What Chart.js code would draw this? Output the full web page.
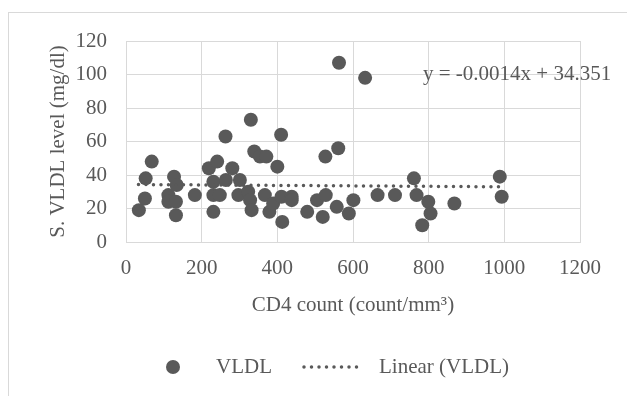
<!DOCTYPE html>
<html>
<head>
<meta charset="utf-8">
<script src="https://cdn.jsdelivr.net/npm/chart.js@4"></script>
<style>
  html, body { margin: 0; padding: 0; background: #fff; }
  #wrap { width: 627px; height: 396px; position: relative; }
</style>
</head>
<body>
<div id="wrap"><canvas id="c" width="627" height="396"></canvas></div>
<script>
// ---- data ----
const cd4Count = [34, 50, 52, 68, 112, 112, 127, 134, 132, 132, 182, 219, 241, 231, 231, 231, 248, 263, 264, 281,
  301, 297, 323, 328, 330, 332, 339, 354, 371, 367, 379, 389, 400, 410, 413, 411, 438, 438, 479, 505,
  520, 528, 527, 557, 561, 563, 589, 601, 632, 665, 711, 761, 768, 799, 805, 783, 868, 988, 993];
const vldlLevel = [19, 26, 38, 48, 28, 24, 39, 34, 24, 16, 28, 44, 48, 36, 28, 18, 28, 63, 37, 44,
  37, 28, 30, 25, 73, 19, 54, 51, 51, 28, 18, 23, 45, 64, 12, 27, 27, 25, 18, 25,
  15, 28, 51, 21, 56, 107, 17, 25, 98, 28, 28, 38, 28, 24, 17, 10, 23, 39, 27];
const trendX = [33, 993];
const trendY = [34.30, 32.96];
const equationText = 'y = -0.0014x + 34.351';
const xTitle = 'CD4 count (count/mm\u00B3)';
const yTitle = 'S. VLDL level (mg/dl)';
const seriesName = 'VLDL';
const trendName = 'Linear (VLDL)';

const FONT = "'Liberation Serif', 'Times New Roman', serif";
const FS = 21;
const TXT = '#595959';
const GRID = '#d9d9d9';
const DOT = '#595959';

const points = cd4Count.map((x, i) => ({ x: x, y: vldlLevel[i] }));
const trend = trendX.map((x, i) => ({ x: x, y: trendY[i] }));

const decor = {
  id: 'decor',
  beforeDraw(chart) {
    const ctx = chart.ctx;
    ctx.save();
    ctx.strokeStyle = GRID;
    ctx.lineWidth = 1;
    ctx.strokeRect(8.5, 12.5, 700, 500);
    ctx.restore();
  },
  afterDraw(chart) {
    const ctx = chart.ctx;
    const xs = chart.scales.x, ys = chart.scales.y;
    ctx.save();
    ctx.font = FS + 'px ' + FONT;
    ctx.fillStyle = TXT;
    ctx.textBaseline = 'middle';
    ctx.textAlign = 'left';
    // trendline equation
    ctx.fillText(equationText, xs.getPixelForValue(785), ys.getPixelForValue(100));
    // legend
    const ly = 367;
    ctx.beginPath();
    ctx.arc(173, ly, 7, 0, Math.PI * 2);
    ctx.fillStyle = DOT;
    ctx.fill();
    ctx.fillStyle = TXT;
    ctx.fillText(chart.data.datasets[1].label, 216, ly);
    ctx.strokeStyle = DOT;
    ctx.lineWidth = 3.5;
    ctx.lineCap = 'round';
    ctx.setLineDash([0, 7.5]);
    ctx.beginPath();
    ctx.moveTo(304, ly);
    ctx.lineTo(362, ly);
    ctx.stroke();
    ctx.setLineDash([]);
    ctx.fillText(chart.data.datasets[0].label, 379, ly);
    ctx.restore();
  }
};

new Chart(document.getElementById('c'), {
  type: 'scatter',
  data: {
    datasets: [
      {
        label: trendName,
        type: 'line',
        data: trend,
        showLine: true,
        pointRadius: 0,
        borderColor: DOT,
        borderWidth: 3.5,
        borderDash: [0, 7.5],
        borderCapStyle: 'round',
        fill: false
      },
      {
        label: seriesName,
        data: points,
        pointRadius: 7,
        pointHoverRadius: 7,
        backgroundColor: DOT,
        borderColor: DOT,
        borderWidth: 0
      }
    ]
  },
  options: {
    responsive: false,
    animation: false,
    devicePixelRatio: 1,
    layout: { padding: { left: 0, right: 47, top: 41, bottom: 74 } },
    plugins: { legend: { display: false }, tooltip: { enabled: false } },
    scales: {
      x: {
        type: 'linear',
        min: 0, max: 1200,
        ticks: { stepSize: 200, color: TXT, font: { family: FONT, size: FS }, padding: 14, callback: v => String(v) },
        grid: { color: GRID, lineWidth: 1, drawTicks: false },
        border: { color: GRID },
        title: { display: true, text: xTitle, color: TXT, font: { family: FONT, size: FS }, padding: { top: 0, bottom: 4 } },
        afterFit(s) { s.height = 80; }
      },
      y: {
        type: 'linear',
        min: 0, max: 120,
        ticks: { stepSize: 20, color: TXT, font: { family: FONT, size: FS }, padding: 19, callback: v => String(v) },
        grid: { color: GRID, lineWidth: 1, drawTicks: false },
        border: { color: GRID },
        title: { display: true, text: yTitle, color: TXT, font: { family: FONT, size: FS }, padding: { top: 46, bottom: 0 } },
        afterFit(s) { s.width = 126; }
      }
    }
  },
  plugins: [decor]
});
</script>
</body>
</html>
